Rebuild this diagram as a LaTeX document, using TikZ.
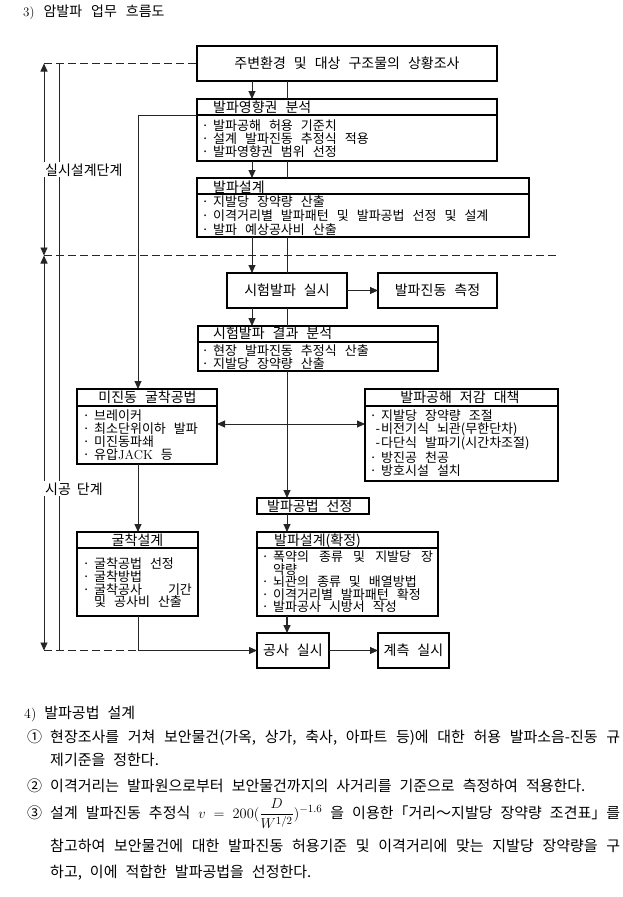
\documentclass[tikz,border=0pt]{standalone}
\usepackage{fontspec}
\usepackage{amsmath}
\newfontfamily\kr{Noto Sans CJK KR}
\usetikzlibrary{arrows.meta}
\newcommand\bl{\makebox[12pt][l]{\makebox[8pt][c]{·}}}
\newcommand\dl{\makebox[12pt][r]{-\hspace{1pt}}}
\newcommand\krf[3]{\kr\fontsize{#1}{#2}\selectfont\spaceskip=#3\relax}
\tikzset{
  boxst/.style={draw=black, line width=1.2pt, inner sep=0pt, outer sep=0pt,
    font=\krf{14}{15}{8pt plus 1pt minus 1pt}},
  hdr/.style={inner sep=0pt, font=\krf{14}{15}{8pt plus 1pt minus 1pt}},
  itemst/.style={inner sep=0pt, align=left, anchor=west,
    font=\krf{13}{13}{8pt plus 1pt minus 1pt}},
  lbl/.style={inner sep=1pt, fill=white, anchor=base west,
    font=\krf{14}{15}{6pt plus 1pt minus 1pt}},
  para/.style={inner sep=0pt, anchor=base west,
    font=\krf{15}{16}{8pt plus 4pt minus 1pt}},
  conn/.style={line width=0.9pt, draw=black!85},
  arr/.style={conn, -{Triangle[length=8pt,width=7pt]}},
  darr/.style={conn, {Triangle[length=8pt,width=7pt]}-{Triangle[length=8pt,width=7pt]}},
  dsh/.style={line width=1.2pt, draw=black!85, dash pattern=on 8pt off 4pt},
  divl/.style={line width=1.2pt, draw=black}
}
\begin{document}
\begin{tikzpicture}[x=1pt,y=-1pt]
\useasboundingbox (0,0) rectangle (623,897);
\fill[white] (0,0) rectangle (623,897);

% title
\node[para, font=\krf{14}{15}{9pt plus 1pt}] (title) at (23,16) {{\rmfamily\fontsize{13}{15}\selectfont 3)} 암발파 업무 흐름도};

% boxes
\node[boxst, minimum width=300pt, minimum height=35pt] (b1) at (347,63.5) {주변환경 및 대상 구조물의 상황조사};
\node[boxst, minimum width=300pt, minimum height=62pt] (b2) at (347,130) {};
\node[boxst, minimum width=332pt, minimum height=59pt] (b3) at (363,207.5) {};
\node[boxst, minimum width=120pt, minimum height=35pt] (b4) at (287,290.5) {시험발파 실시};
\node[boxst, minimum width=119pt, minimum height=35pt] (b5) at (437.5,290.5) {발파진동 측정};
\node[boxst, minimum width=240pt, minimum height=45pt] (b6) at (318,348.5) {};
\node[boxst, minimum width=140pt, minimum height=75pt] (b7) at (147,426.5) {};
\node[boxst, minimum width=193pt, minimum height=92pt] (b8) at (461.5,435) {};
\node[boxst, minimum width=112pt, minimum height=16pt] (b9) at (313,506) {};
\node[boxst, minimum width=121pt, minimum height=84pt] (b10) at (137.5,574) {};
\node[boxst, minimum width=181pt, minimum height=84pt] (b11) at (347.5,574) {};
\node[boxst, minimum width=72pt, minimum height=35pt] (b12) at (293,650.5) {공사 실시};
\node[boxst, minimum width=71pt, minimum height=35pt] (b13) at (413.5,650.5) {계측 실시};

% header dividers
\draw[divl] ([yshift=-16pt]b2.north west) -- ([yshift=-16pt]b2.north east);
\draw[divl] ([yshift=-16pt]b3.north west) -- ([yshift=-16pt]b3.north east);
\draw[divl] ([yshift=-16pt]b6.north west) -- ([yshift=-16pt]b6.north east);
\draw[divl] ([yshift=-17pt]b7.north west) -- ([yshift=-17pt]b7.north east);
\draw[divl] ([yshift=-17pt]b8.north west) -- ([yshift=-17pt]b8.north east);
\draw[divl] ([yshift=-16pt]b10.north west) -- ([yshift=-16pt]b10.north east);
\draw[divl] ([yshift=-16pt]b11.north west) -- ([yshift=-16pt]b11.north east);

% headers
\node[hdr, anchor=base west] (t2) at (213,112.5) {발파영향권 분석};
\node[hdr, anchor=base west] (t3) at (213,192.5) {발파설계};
\node[hdr, anchor=base west] (t6) at (213,338.5) {시험발파 결과 분석};
\node[hdr, anchor=base] (t7) at (147.5,402.5) {미진동 굴착공법};
\node[hdr, anchor=base] (t8) at (460,402.5) {발파공해 저감 대책};
\node[hdr, anchor=base west] (t9) at (267,511.5) {발파공법 선정};
\node[hdr, anchor=base] (t10) at (137.5,545.5) {굴착설계};
\node[hdr, anchor=base west] (t11) at (274,545.5) {발파설계(확정)};

% items
\node[itemst] (i2) at (201,139) {\bl 발파공해 허용 기준치\\ \bl 설계 발파진동 추정식 적용\\ \bl 발파영향권 범위 선정};
\node[itemst, font=\krf{13}{14}{8pt plus 1pt minus 1pt}] (i3) at (201,216) {\bl 지발당 장약량 산출\\ \bl 이격거리별 발파패턴 및 발파공법 선정 및 설계\\ \bl 발파 예상공사비 산출};
\node[itemst] (i6) at (201,357.5) {\bl 현장 발파진동 추정식 산출\\ \bl 지발당 장약량 산출};
\node[itemst] (i7) at (82,435.5) {\bl 브레이커\\ \bl 최소단위이하 발파\\ \bl 미진동파쇄\\ \bl 유압{\rmfamily\fontsize{13}{13}\selectfont JACK} 등};
\node[itemst] (i8) at (369,443) {\bl 지발당 장약량 조절\\ \dl 비전기식 뇌관(무한단차)\\ \dl 다단식 발파기(시간차조절)\\ \bl 방진공 천공\\ \bl 방호시설 설치};
\node[itemst, font=\krf{13}{12.7}{8pt plus 1pt minus 1pt}] (i10) at (82,583) {\bl 굴착공법 선정\\ \bl 굴착방법\\ \bl 굴착공사\hspace*{26pt}기간\\ \hspace*{12pt}및 공사비 산출};
\node[itemst, font=\krf{13}{12.5}{8pt plus 1pt minus 1pt}] (i11) at (261,582) {\bl\makebox[160pt][s]{폭약의 종류 및 지발당 장}\\ \hspace*{12pt}약량\\ \bl 뇌관의 종류 및 배열방법\\ \bl 이격거리별 발파패턴 확정\\ \bl 발파공사 시방서 작성};

% helper coordinates
\coordinate (ax) at (252,0);
\coordinate (tx) at (287,0);
\coordinate (lx) at (138,0);
\coordinate (hy) at (0,424);
\coordinate (lt) at (44,63.5);
\coordinate (lm) at (44,255.5);
\coordinate (lb) at (44,650.5);
\coordinate (vt) at (59,63.5);
\coordinate (vb) at (59,650.5);
\coordinate (dr) at (558,255.5);
\coordinate (b2div) at ([yshift=-16pt]b2.north west);
\coordinate (bj) at (lx |- b12.west);

% main flow
\draw[arr] (b1.south -| ax) -- (b2.north -| ax);
\draw[conn] (b1.south -| tx) -- (b2.north -| tx);
\draw[arr] (b2.south -| ax) -- (b3.north -| ax);
\draw[conn] (b2.south -| tx) -- (b3.north -| tx);
\draw[arr] (b3.south -| ax) -- (b4.north -| ax);
\draw[conn] (b3.south -| tx) -- (b4.north -| tx);
\draw[arr] (b4.south -| ax) -- (b6.north -| ax);
\draw[conn] (b4.south -| tx) -- (b6.north -| tx);
\draw[arr] (b4.east) -- (b5.west);
\draw[arr] (b6.south -| tx) -- (b9.north -| tx);
\draw[arr] (b9.south -| tx) -- (b11.north -| tx);
\draw[arr, line width=1.6pt] (b11.south -| tx) -- (b12.north -| tx);
\draw[arr] (b12.east) -- (b13.west);

% left branch
\draw[arr] (b2div) -| (b7.north -| lx);
\draw[arr] (b7.south -| lx) -- (b10.north -| lx);
\draw[darr] (b7.east |- hy) -- (b8.west |- hy);
\draw[arr] (b10.south -| lx) |- (b12.west);
\draw[dsh] (lb) -- (bj);

% stage markers
\draw[dsh] (lt) -- (b1.west);
\draw[dsh] (lm) -- (dr);
\draw[darr] (lt) -- (lm);
\draw[darr] (lm) -- (lb);
\draw[conn] (vt) -- (vb);
\node[lbl] (lab1) at (44,175) {실시설계단계};
\node[lbl] (lab2) at (44,494) {시공 단계};

% bottom text
\node[para] (h4) at (24,718) {{\rmfamily\fontsize{14}{16}\selectfont 4)} 발파공법 설계};
\node[para] (n1) at (27,742) {①};
\node[para] (p1a) at (50,742) {\makebox[570pt][s]{현장조사를 거쳐 보안물건(가옥, 상가, 축사, 아파트 등)에 대한 허용 발파소음-진동 규}};
\node[para] (p1b) at (50,765) {제기준을 정한다.};
\node[para] (n2) at (27,791) {②};
\node[para] (p2) at (50,791) {이격거리는 발파원으로부터 보안물건까지의 사거리를 기준으로 측정하여 적용한다.};
\node[para] (n3) at (27,818) {③};
\node[para] (p3a) at (50,818) {\makebox[570pt][s]{설계 발파진동 추정식 $v\;=\;200(\dfrac{D}{W^{1/2}})^{-1.6}$ 을 이용한「거리～지발당 장약량 조견표」를}};
\node[para] (p3b) at (50,851) {\makebox[570pt][s]{참고하여 보안물건에 대한 발파진동 허용기준 및 이격거리에 맞는 지발당 장약량을 구}};
\node[para] (p3c) at (50,877) {하고, 이에 적합한 발파공법을 선정한다.};
\end{tikzpicture}
\end{document}
